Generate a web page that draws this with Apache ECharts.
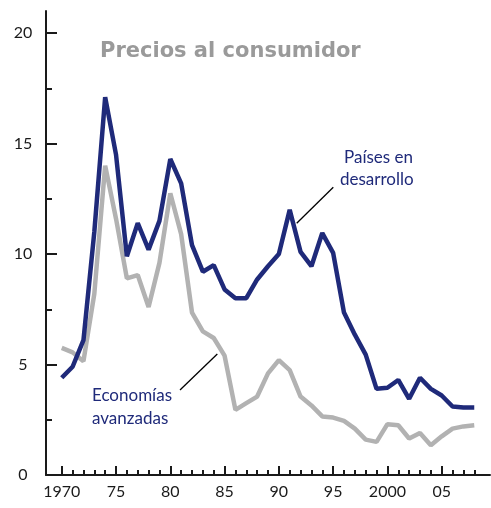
<!DOCTYPE html>
<html>
<head>
<meta charset="utf-8">
<script src="https://cdn.jsdelivr.net/npm/echarts@6/dist/echarts.min.js"></script>
<style>
  html, body { margin: 0; padding: 0; background: #fff; }
  #chart { width: 491px; height: 508px; }
</style>
</head>
<body>
<div id="chart"></div>
<script>
  var years = [];
  for (var y = 1970; y <= 2008; y++) years.push(y);

  // Países en desarrollo
  var developing = [4.4, 4.9, 6.1, 11.0, 17.1, 14.5, 9.9, 11.4, 10.2, 11.5,
    14.3, 13.2, 10.4, 9.2, 9.5, 8.4, 8.0, 8.0, 8.85, 9.45,
    10.0, 12.0, 10.1, 9.45, 10.95, 10.05, 7.35, 6.35, 5.45, 3.9,
    3.95, 4.3, 3.45, 4.4, 3.9, 3.6, 3.1, 3.05, 3.05];

  // Economías avanzadas
  var advanced = [5.75, 5.55, 5.15, 8.2, 14.0, 11.6, 8.9, 9.05, 7.6, 9.6,
    12.75, 10.9, 7.35, 6.5, 6.2, 5.4, 2.95, 3.25, 3.55, 4.6,
    5.2, 4.75, 3.55, 3.15, 2.65, 2.6, 2.45, 2.1, 1.6, 1.5,
    2.3, 2.25, 1.65, 1.9, 1.35, 1.75, 2.1, 2.2, 2.25];

  var xMajor = [1970, 1975, 1980, 1985, 1990, 1995, 2000, 2005];
  var xMajorLabels = ['1970', '75', '80', '85', '90', '95', '2000', '05'];
  var xMinor = years.filter(function (v) { return xMajor.indexOf(v) < 0; });
  var yMajor = [0, 5, 10, 15, 20];
  var yMinor = [2.5, 7.5, 12.5, 17.5];

  var navy = '#1f2a7a';
  var grey = '#b2b2b2';
  var ink = '#1a1a1a';
  var font = 'Lato';

  function pairs(vals) {
    return years.map(function (yr, i) { return [yr, vals[i]]; });
  }

  var dom = document.getElementById('chart');
  var myChart = echarts.init(dom, null, { renderer: 'canvas' });

  var option = {
    animation: false,
    title: {
      text: 'Precios al consumidor',
      left: 95, top: 36,
      textStyle: { fontFamily: 'DejaVu Sans', fontSize: 21, fontWeight: 'bold', color: '#9a9a9a' }
    },
    grid: { left: 46, right: 1, top: 11, bottom: 33 },
    xAxis: [{
      type: 'value', min: 1968.55, max: 2009.45, position: 'bottom',
      splitLine: { show: false },
      axisLine: { onZero: false, lineStyle: { color: ink, width: 2 } },
      axisTick: { inside: true, length: 9, lineStyle: { color: ink, width: 2 }, customValues: xMajor },
      axisLabel: {
        customValues: xMajor, margin: 9, color: ink, fontFamily: font, fontSize: 16,
        formatter: function (v) { return xMajorLabels[xMajor.indexOf(v)]; }
      }
    }, {
      type: 'value', min: 1968.55, max: 2009.45, position: 'bottom',
      splitLine: { show: false },
      axisLine: { show: false, onZero: false },
      axisTick: { inside: true, length: 5, lineStyle: { color: ink, width: 2 }, customValues: xMinor },
      axisLabel: { show: false }
    }],
    yAxis: [{
      type: 'value', min: 0, max: 21, position: 'left',
      splitLine: { show: false },
      axisLine: { show: true, lineStyle: { color: ink, width: 2 } },
      axisTick: { show: true, inside: true, length: 11, lineStyle: { color: ink, width: 2 }, customValues: yMajor },
      axisLabel: { customValues: yMajor, margin: 23, align: 'center', color: ink, fontFamily: font, fontSize: 16 }
    }, {
      type: 'value', min: 0, max: 21, position: 'left',
      splitLine: { show: false },
      axisLine: { show: false },
      axisTick: { show: true, inside: true, length: 6, lineStyle: { color: ink, width: 2 }, customValues: yMinor },
      axisLabel: { show: false }
    }],
    series: [{
      name: 'Economías avanzadas', type: 'line', data: pairs(advanced),
      showSymbol: false, symbol: 'none',
      lineStyle: { color: grey, width: 4.5 }
    }, {
      name: 'Países en desarrollo', type: 'line', data: pairs(developing),
      showSymbol: false, symbol: 'none',
      lineStyle: { color: navy, width: 4.5 }
    }],
    graphic: [
      { type: 'text', left: 344, top: 149, style: { text: 'Países en', fill: navy, font: '17px ' + font } },
      { type: 'text', left: 340, top: 171, style: { text: 'desarrollo', fill: navy, font: '17px ' + font } },
      { type: 'line', shape: { x1: 296.7, y1: 223.3, x2: 333.3, y2: 187.3 }, style: { stroke: '#000', lineWidth: 1.3 } },
      { type: 'text', left: 92, top: 387, style: { text: 'Economías', fill: navy, font: '17px ' + font } },
      { type: 'text', left: 92, top: 410, style: { text: 'avanzadas', fill: navy, font: '17px ' + font } },
      { type: 'line', shape: { x1: 180, y1: 390, x2: 217.3, y2: 354 }, style: { stroke: '#000', lineWidth: 1.3 } }
    ]
  };

  if (option && typeof option === 'object') {
    myChart.setOption(option);
  }

  window.addEventListener('resize', myChart.resize);
</script>
</body>
</html>
